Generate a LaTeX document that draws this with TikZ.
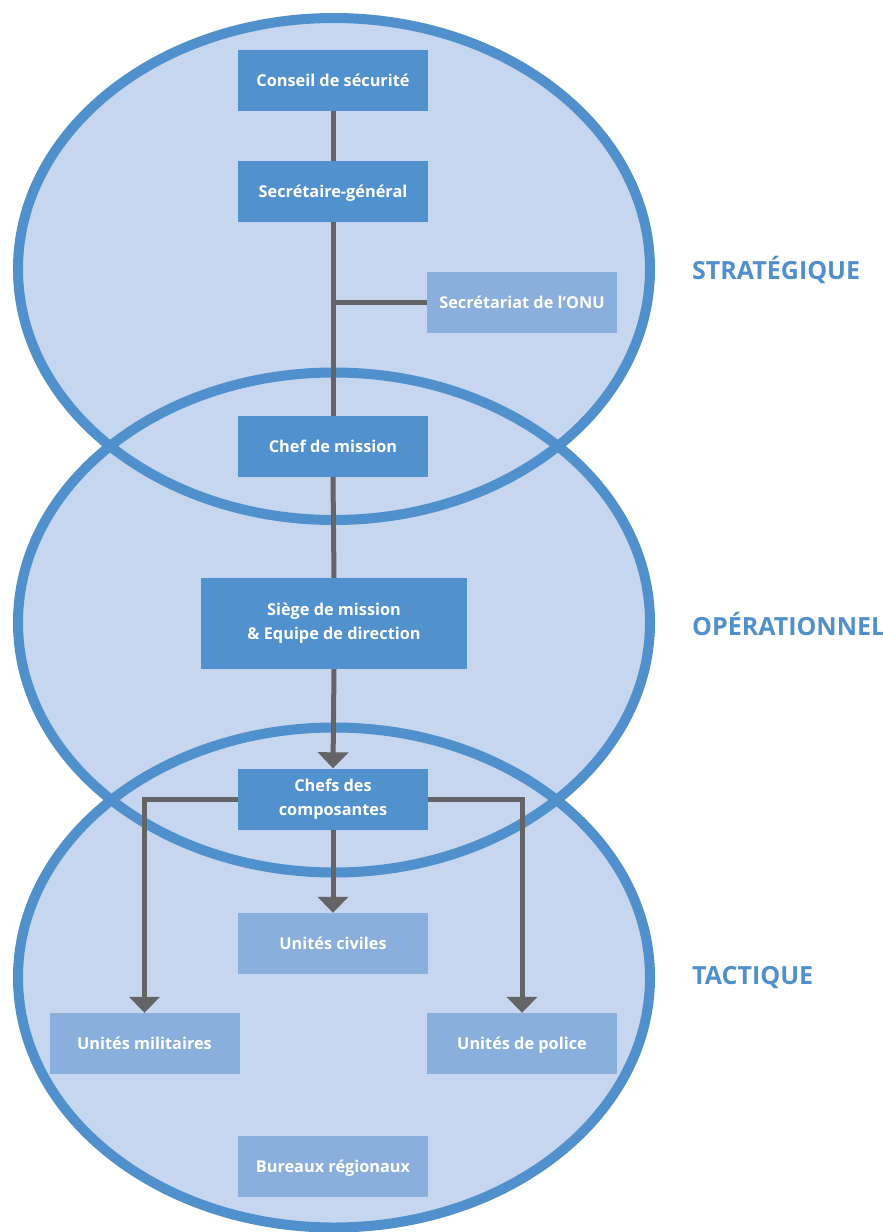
\documentclass[tikz,border=0pt]{standalone}
\usepackage{fontspec}
\setmainfont{Open Sans}
\usetikzlibrary{arrows.meta}
\definecolor{ringblue}{HTML}{5090CC}
\definecolor{ringfill}{HTML}{C5D6EE}
\definecolor{darkbox}{HTML}{5191CE}
\definecolor{lightbox}{HTML}{8AAFDC}
\definecolor{linegray}{HTML}{636466}
\tikzset{
  ringfillstyle/.style={fill=ringfill},
  ringline/.style={draw=ringblue, line width=10pt},
  boxcore/.style={rectangle, inner sep=0pt, text=white, font=\bfseries\fontsize{16.3}{24}\selectfont, align=center, minimum width=190pt, minimum height=61pt},
  boxone/.style={boxcore, text height=14pt, text depth=2pt},
  dk/.style={boxone, fill=darkbox},
  lt/.style={boxone, fill=lightbox},
  dktwo/.style={boxcore, fill=darkbox},
  conn/.style={draw=linegray, line width=5pt},
  arr/.style={conn, -{Triangle[width=30pt,length=16pt]}},
  levellabel/.style={text=ringblue, font=\bfseries\fontsize{25}{30}\selectfont, anchor=west, inner sep=0pt}
}
\begin{document}
\begin{tikzpicture}[x=1pt,y=-1pt]
\useasboundingbox (0,0) rectangle (883,1232);
% ellipse fills
\fill[ringfillstyle] (334,269) ellipse [x radius=316pt, y radius=251pt];
\fill[ringfillstyle] (334,622.5) ellipse [x radius=316pt, y radius=250pt];
\fill[ringfillstyle] (334,977.5) ellipse [x radius=316pt, y radius=250pt];
% ellipse outlines
\draw[ringline] (334,269) ellipse [x radius=316pt, y radius=251pt];
\draw[ringline] (334,622.5) ellipse [x radius=316pt, y radius=250pt];
\draw[ringline] (334,977.5) ellipse [x radius=316pt, y radius=250pt];
% boxes
\node[dk] (cs) at (333,80.5) {Conseil de sécurité};
\node[dk] (sg) at (333,191.5) {Secrétaire-général};
\node[lt] (onu) at (522,302.5) {Secrétariat de l’ONU};
\node[dk] (chef) at (333,446.5) {Chef de mission};
\node[dktwo, minimum width=266pt, minimum height=91pt] (siege) at (334,623.5) {Siège de mission\\\& Equipe de direction};
\node[dktwo] (comp) at (333,799) {Chefs des\\composantes};
\node[lt] (civ) at (333,943.5) {Unités civiles};
\node[lt] (mil) at (144.5,1043.5) {Unités militaires};
\node[lt] (pol) at (522,1043.5) {Unités de police};
\node[lt] (bur) at (333,1166.5) {Bureaux régionaux};
% connectors
\coordinate (jonu) at (sg.south |- onu.west);
\coordinate (lmil) at (mil.north |- comp.west);
\coordinate (lpol) at (pol.north |- comp.east);
\draw[conn] (cs.south) -- (sg.north);
\draw[conn] (sg.south) -- (chef.north);
\draw[conn] (onu.west) -- (jonu);
\draw[conn] (chef.south) -- (siege.north);
\draw[arr] (siege.south) -- (comp.north);
\draw[arr] (comp.south) -- (civ.north);
\draw[arr] (comp.west) -- (lmil) -- (mil.north);
\draw[arr] (comp.east) -- (lpol) -- (pol.north);
% level labels
\node[levellabel] (lstrat) at (692,270) {STRATÉGIQUE};
\node[levellabel] (lop) at (692,624) {OPÉRATIONNEL};
\node[levellabel] (ltac) at (692,978) {TACTIQUE};
\end{tikzpicture}
\end{document}
